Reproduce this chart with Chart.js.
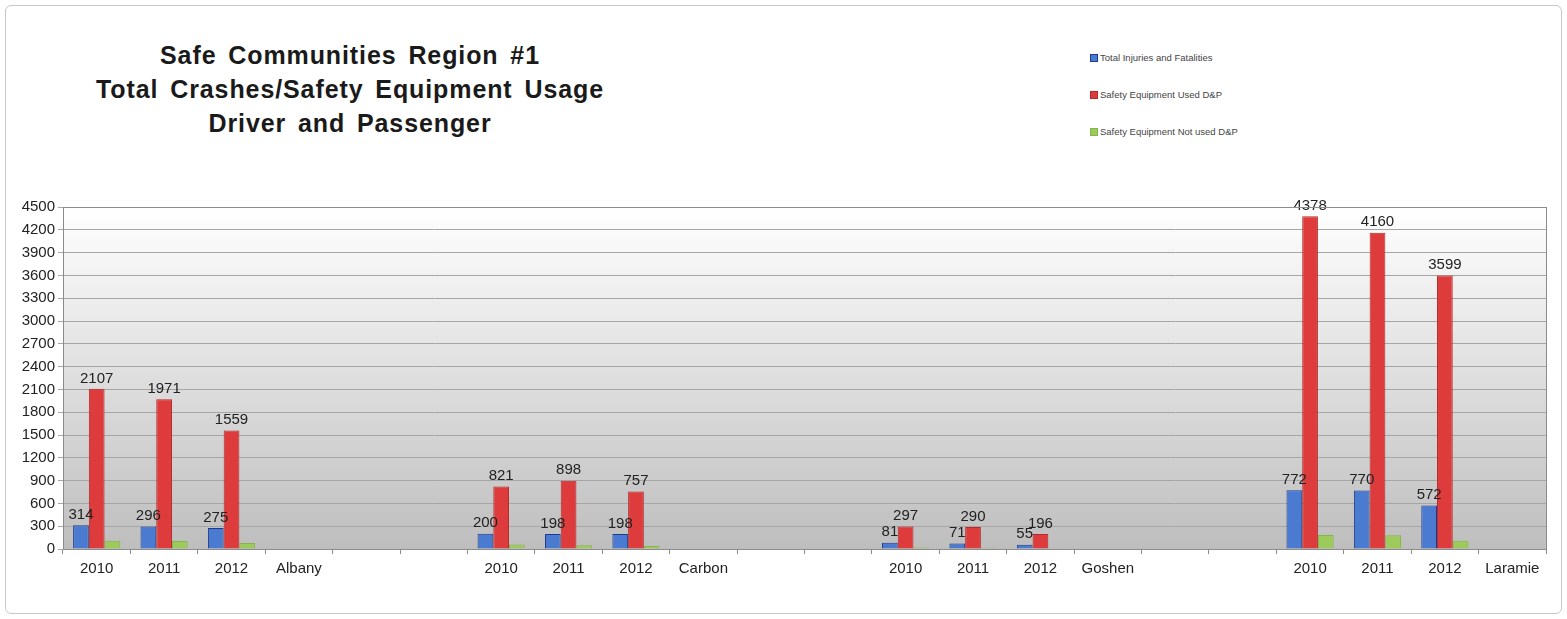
<!DOCTYPE html>
<html>
<head>
<meta charset="utf-8">
<script src="https://cdn.jsdelivr.net/npm/chart.js@4"></script>
<style>
  html, body { margin: 0; padding: 0; background: #fff; }
  #wrap { position: relative; width: 1567px; height: 619px; }
  #frame { position: absolute; left: 5px; top: 5px; width: 1555px; height: 607px; border: 1px solid #c8c8c8; border-radius: 6px; }
  #title { position: absolute; left: 0px; top: 38px; width: 700px; text-align: center; font: bold 25px "Liberation Sans", Arial, sans-serif; color: #1a1a1a; line-height: 34px; letter-spacing: 0.9px; word-spacing: 4px; }
  #legend { position: absolute; left: 1090px; top: 52px; font: 9.5px "Liberation Sans", Arial, sans-serif; color: #444; }
  #legend div { height: 37px; }
  #legend span.sw { display: inline-block; width: 6px; height: 6px; margin-right: 2px; vertical-align: -1px; }
  canvas { position: absolute; left: 0; top: 0; }
</style>
</head>
<body>
<div id="wrap">
  <div id="frame"></div>
  <div id="title">Safe Communities Region #1<br>Total Crashes/Safety Equipment Usage<br>Driver and Passenger</div>
  <div id="legend"></div>
  <canvas id="chart" width="1567" height="619"></canvas>
</div>
<script>
// categories (blank slots separate the counties, as in the original sheet)
const categories = ['2010','2011','2012','Albany','','',
                    '2010','2011','2012','Carbon','','',
                    '2010','2011','2012','Goshen','','',
                    '2010','2011','2012','Laramie'];

const injuries = [314, 296, 275, null, null, null,
                  200, 198, 198, null, null, null,
                  81, 71, 55, null, null, null,
                  772, 770, 572, null];

const equipUsed = [2107, 1971, 1559, null, null, null,
                   821, 898, 757, null, null, null,
                   297, 290, 196, null, null, null,
                   4378, 4160, 3599, null];

const equipNotUsed = [110, 105, 80, null, null, null,
                      60, 50, 40, null, null, null,
                      20, 15, 10, null, null, null,
                      185, 180, 110, null];

const seriesNames = ['Total Injuries and Fatalities', 'Safety Equipment Used D&P', 'Safety Equipment Not used D&P'];
const seriesColors = ['#4a7bd0', '#de3c3c', '#9ccb5c'];
const seriesBorders = ['#1f3a8a', '#b52a2a', '#86b44a'];

document.addEventListener('DOMContentLoaded', () => {
  renderLegend();
  drawChart();
});

function renderLegend() {
  const el = document.getElementById('legend');
  el.innerHTML = seriesNames.map((n, i) =>
    `<div><span class="sw" style="background:${seriesColors[i]};border:1px solid ${seriesBorders[i]}"></span>${n}</div>`
  ).join('');
}

// gradient plot background + border
const plotBg = {
  id: 'plotBg',
  beforeDraw(chart) {
    const { ctx, chartArea: a } = chart;
    const g = ctx.createLinearGradient(0, a.top, 0, a.bottom);
    g.addColorStop(0, '#ffffff');
    g.addColorStop(1, '#bebebe');
    ctx.save();
    ctx.fillStyle = g;
    ctx.fillRect(a.left, a.top, a.right - a.left, a.bottom - a.top);
    ctx.restore();
  },
  afterDraw(chart) {
    const { ctx, chartArea: a } = chart;
    ctx.save();
    ctx.strokeStyle = '#8c8c8c';
    ctx.lineWidth = 1;
    ctx.strokeRect(a.left + 0.5, a.top + 0.5, a.right - a.left, a.bottom - a.top);
    ctx.restore();
  }
};

// value labels above blue and red bars
const valueLabels = {
  id: 'valueLabels',
  afterDatasetsDraw(chart) {
    const ctx = chart.ctx;
    ctx.save();
    ctx.font = '15px "Liberation Sans", Arial, sans-serif';
    ctx.fillStyle = '#222';
    ctx.textAlign = 'center';
    ctx.textBaseline = 'bottom';
    [0, 1].forEach(di => {
      const meta = chart.getDatasetMeta(di);
      meta.data.forEach((bar, i) => {
        const v = chart.data.datasets[di].data[i];
        if (v === null || v === undefined) return;
        ctx.fillText(String(v), bar.x, bar.y - 3);
      });
    });
    ctx.restore();
  }
};

function drawChart() {
  const ctx = document.getElementById('chart').getContext('2d');
  const data = [injuries, equipUsed, equipNotUsed];
  new Chart(ctx, {
    type: 'bar',
    data: {
      labels: categories,
      datasets: data.map((d, i) => ({
        label: seriesNames[i], data: d,
        backgroundColor: seriesColors[i], borderColor: seriesBorders[i], borderWidth: 1,
        categoryPercentage: 0.7, barPercentage: 1.0
      }))
    },
    options: {
      responsive: false,
      animation: false,
      layout: { padding: { top: 207, right: 21, bottom: 38, left: 0 } },
      plugins: { legend: { display: false }, tooltip: { enabled: false } },
      scales: {
        x: {
          afterFit: s => { s.height = 32; },
          grid: { drawOnChartArea: false, drawTicks: true, tickLength: 5, color: '#8c8c8c', offset: true },
          border: { color: '#8c8c8c' },
          ticks: { autoSkip: false, maxRotation: 0, color: '#222', font: { size: 15, family: '"Liberation Sans", Arial, sans-serif' }, padding: 6 }
        },
        y: {
          min: 0, max: 4500,
          afterFit: s => { s.width = 63; },
          grid: { color: '#a6a6a6', tickLength: 5 },
          border: { color: '#8c8c8c' },
          ticks: { stepSize: 300, color: '#222', callback: v => String(v), font: { size: 15, family: '"Liberation Sans", Arial, sans-serif' }, padding: 3 }
        }
      }
    },
    plugins: [plotBg, valueLabels]
  });
}
</script>
</body>
</html>
